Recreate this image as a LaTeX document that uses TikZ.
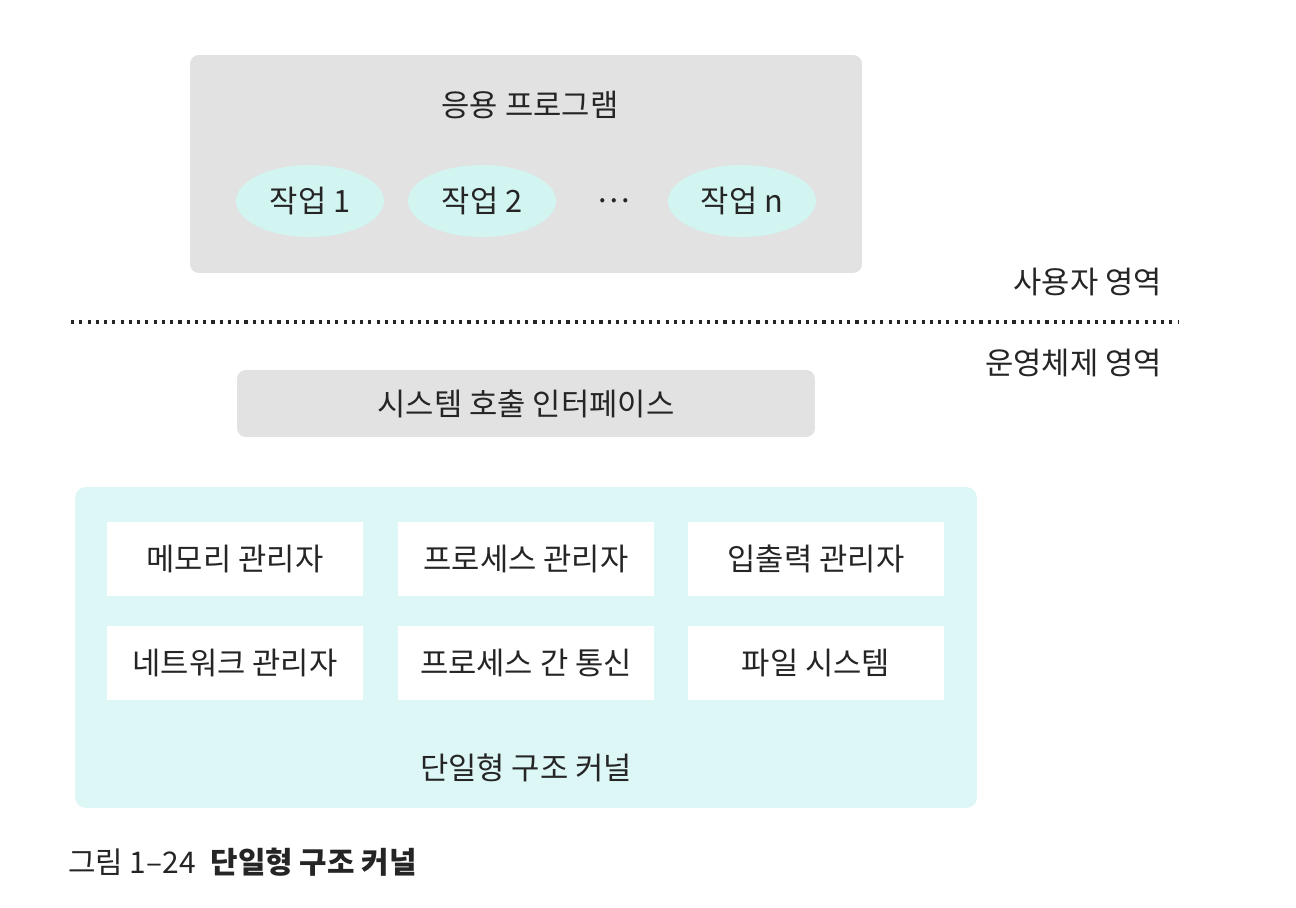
\documentclass[tikz,border=0pt]{standalone}
\usepackage{fontspec}
\setmainfont{Noto Sans CJK KR}
\usepackage{tikz}
\usetikzlibrary{positioning,shapes.geometric}
\usepackage{xcolor}
\definecolor{panelgray}{HTML}{E2E2E2}
\definecolor{taskcyan}{HTML}{D3F5F2}
\definecolor{kernelcyan}{HTML}{DDF7F7}
\definecolor{inkgray}{HTML}{252525}

\begin{document}
\begin{tikzpicture}[
    x=0.02cm, y=-0.02cm,
    every node/.style={text=inkgray, font=\fontsize{17.5}{20}\selectfont},
    panel/.style={rectangle, rounded corners=5pt, fill=panelgray, draw=none},
    task/.style={ellipse, fill=taskcyan, minimum width=2.96cm, minimum height=1.44cm},
    kernel/.style={rectangle, rounded corners=6pt, fill=kernelcyan},
    module/.style={rectangle, fill=white, minimum width=5.12cm, minimum height=1.5cm},
    arealabel/.style={anchor=east}
]
\useasboundingbox[fill=white] (0,0) rectangle (1296,908);

% ----- User space -----
\node[panel, minimum width=13.44cm, minimum height=4.36cm] (app) at (526,164) {};
\node (apptitle) at (530,105) {응용 프로그램};
\node[task] (T1) at (310,201) {작업 1};
\node[task] (T2) at (482,201) {작업 2};
\node (Tdots) at (614,201) {…};
\node[task] (Tn) at (742,201) {작업 n};

% ----- Separator -----
\coordinate (sepL) at (71,322);
\coordinate (sepR) at (1178,322);
\draw[line width=1.8pt, dash pattern=on 1.8pt off 2.9pt, inkgray] (sepL) -- (sepR);
\node[arealabel] (userarea) at (1168,282) {사용자 영역};
\node[arealabel] (osarea) at (1168,363) {운영체제 영역};

% ----- System call interface -----
\node[panel, minimum width=11.56cm, minimum height=1.34cm] (syscall) at (526,403.5) {시스템 호출 인터페이스};

% ----- Kernel -----
\node[kernel, minimum width=18.04cm, minimum height=6.42cm] (K) at (526,647.5) {};
\foreach \name/\x/\y/\txt in {M11/235/559/메모리 관리자, M12/526/559/프로세스 관리자, M13/816/559/입출력 관리자,
                              M21/235/663/네트워크 관리자, M22/526/663/프로세스 간 통신, M23/816/663/파일 시스템}{
    \node[module] (\name) at (\x,\y) {\txt};
}
\node (klabel) at (526,768) {단일형 구조 커널};

% ----- Caption -----
\node[anchor=west, font=\fontsize{17}{20}\selectfont] (caption) at (62,862) {그림 1–24\enspace\textbf{단일형 구조 커널}};

\end{tikzpicture}
\end{document}
